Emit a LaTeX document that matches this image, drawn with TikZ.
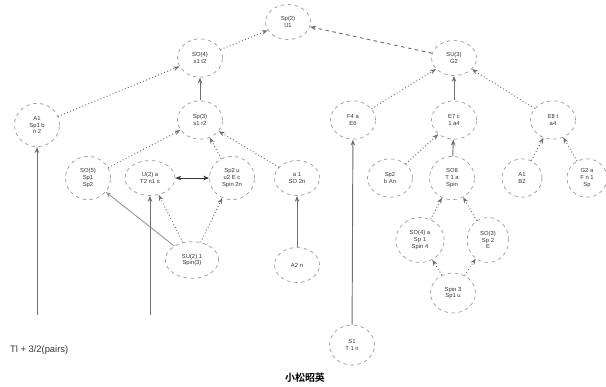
\documentclass[tikz,border=0pt]{standalone}
\usepackage{fontspec}
\setmainfont{Liberation Sans}
\newfontfamily\cjkfont{Noto Sans CJK JP}[BoldFont=* Bold]
\usetikzlibrary{arrows.meta,shapes.geometric}
\definecolor{treeink}{HTML}{333333}
\definecolor{treeline}{HTML}{6E6E6E}
\definecolor{treefaint}{HTML}{9A9A9A}
\tikzset{
  member/.style={ellipse, draw=treefaint, dashed, line width=.6pt,
    minimum width=1.35cm, minimum height=1.15cm, inner sep=1pt,
    font=\fontsize{5}{5.6}\selectfont, text=treeink, align=center},
  adopt/.style={-{Stealth[length=1.8mm]}, draw=treeline, dotted, line width=.8pt},
  blood/.style={-{Stealth[length=1.8mm]}, draw=treeline, line width=.8pt},
  marry/.style={{Stealth[length=1.8mm]}-{Stealth[length=1.8mm]}, draw=treeink, line width=.8pt},
  guide/.style={draw=treefaint, line width=.8pt}
}

\begin{document}
\begin{tikzpicture}[x=0.03cm,y=-0.03cm]
  \useasboundingbox (0,0) rectangle (606,387);

  % top generation
  \node[member, minimum width=1.35cm, minimum height=1.05cm] (top) at (288,22) {Sp(2)\\ U1};
  \node[member] (lhead) at (200,58) {SO(4)\\ s1 t2};
  \node[member, minimum height=1.05cm] (rhead) at (454,58) {SU(3)\\ G2};

  % second row
  \node[member, minimum height=1.3cm] (far) at (37,125) {A1\\ Sp1 b\\ n 2};
  \node[member] (lmid) at (200,120) {Sp(3)\\ s1 r2};
  \node[member] (rleft) at (353,120) {F4 a\\ E6};
  \node[member] (rmid) at (454,120) {E7 c\\ 1 a4};
  \node[member] (rright) at (553,120) {E8 t\\ a4};

  % third row
  \node[member, minimum height=1.3cm] (ia) at (88,178) {SO(5)\\ Sp1\\ Sp2};
  \node[member, minimum width=1.5cm, minimum height=1.05cm] (ib) at (150,178) {U(2) a\\ T2 n1 s};
  \node[member, minimum height=1.3cm] (ic) at (232,178) {Sp2 u\\ u2 E c\\ Spin 2n};
  \node[member, minimum height=1.05cm] (id) at (297,178) {a 1\\ SO 2n};
  \node[member] (ie) at (390,178) {Sp2\\ b An};
  \node[member, minimum height=1.3cm] (if) at (452,178) {SO8\\ T 1 a\\ Spin};
  \node[member, minimum width=1.2cm] (ig) at (522,178) {A1\\ B2};
  \node[member, minimum width=1.2cm] (ih) at (587,178) {G2 a\\ F n 1\\ Sp};

  % lower rows
  \node[member, minimum width=1.6cm, minimum height=1.1cm] (low) at (192,260) {SU(2) 1\\ Spin(3)};
  \node[member, minimum height=1.05cm] (lr) at (297,265) {A2 n};
  \node[member, minimum width=1.45cm, minimum height=1.35cm] (sa) at (420,240) {SO(4) a\\ Sp 1\\ Spin 4};
  \node[member, minimum width=1.25cm, minimum height=1.35cm] (sb) at (488,240) {SO(3)\\ Sp 2\\ E};
  \node[member, minimum height=1.2cm] (sc) at (453,293) {Spin 3\\ Sp1 u};
  \node[member, minimum height=1.2cm] (root) at (352,345) {S1\\ T 1 n};

  % free ends of the long lines
  \coordinate (footA) at (37,315);
  \coordinate (footB) at (150,315);

  % links
  \draw[adopt] (lhead) -- (top);
  \draw[blood, dashed] (rhead) -- (top);
  \draw[adopt] (far) -- (lhead);
  \draw[blood] (lmid) -- (lhead);
  \draw[adopt] (rleft) -- (rhead);
  \draw[blood] (rmid) -- (rhead);
  \draw[adopt] (rright) -- (rhead);
  \draw[adopt] (ia) -- (lmid);
  \draw[adopt] (ic) -- (lmid);
  \draw[adopt] (id) -- (lmid);
  \draw[marry] (ib) -- (ic);
  \draw[adopt] (ie) -- (rmid);
  \draw[blood] (if) -- (rmid);
  \draw[adopt] (ig) -- (rright);
  \draw[adopt] (ih) -- (rright);
  \draw[guide, -{Stealth[length=1.8mm]}] (low) -- (ia);
  \draw[adopt] (low) -- (ib);
  \draw[adopt] (low) -- (ic);
  \draw[blood] (lr) -- (id);
  \draw[adopt] (sa) -- (if);
  \draw[adopt] (sb) -- (if);
  \draw[adopt] (sc) -- (sa);
  \draw[adopt] (sc) -- (sb);
  \draw[blood] (footA) -- (far);
  \draw[blood] (footB) -- (ib);
  \draw[blood] (root) -- (rleft);

  \node[font=\fontsize{8}{9}\selectfont, text=treeink, anchor=west] (note) at (6,350) {Tl + 3/2(pairs)};
  \node[font=\cjkfont\bfseries\fontsize{8.5}{10}\selectfont] (caption) at (305,378) {小松昭英};
\end{tikzpicture}
\end{document}
